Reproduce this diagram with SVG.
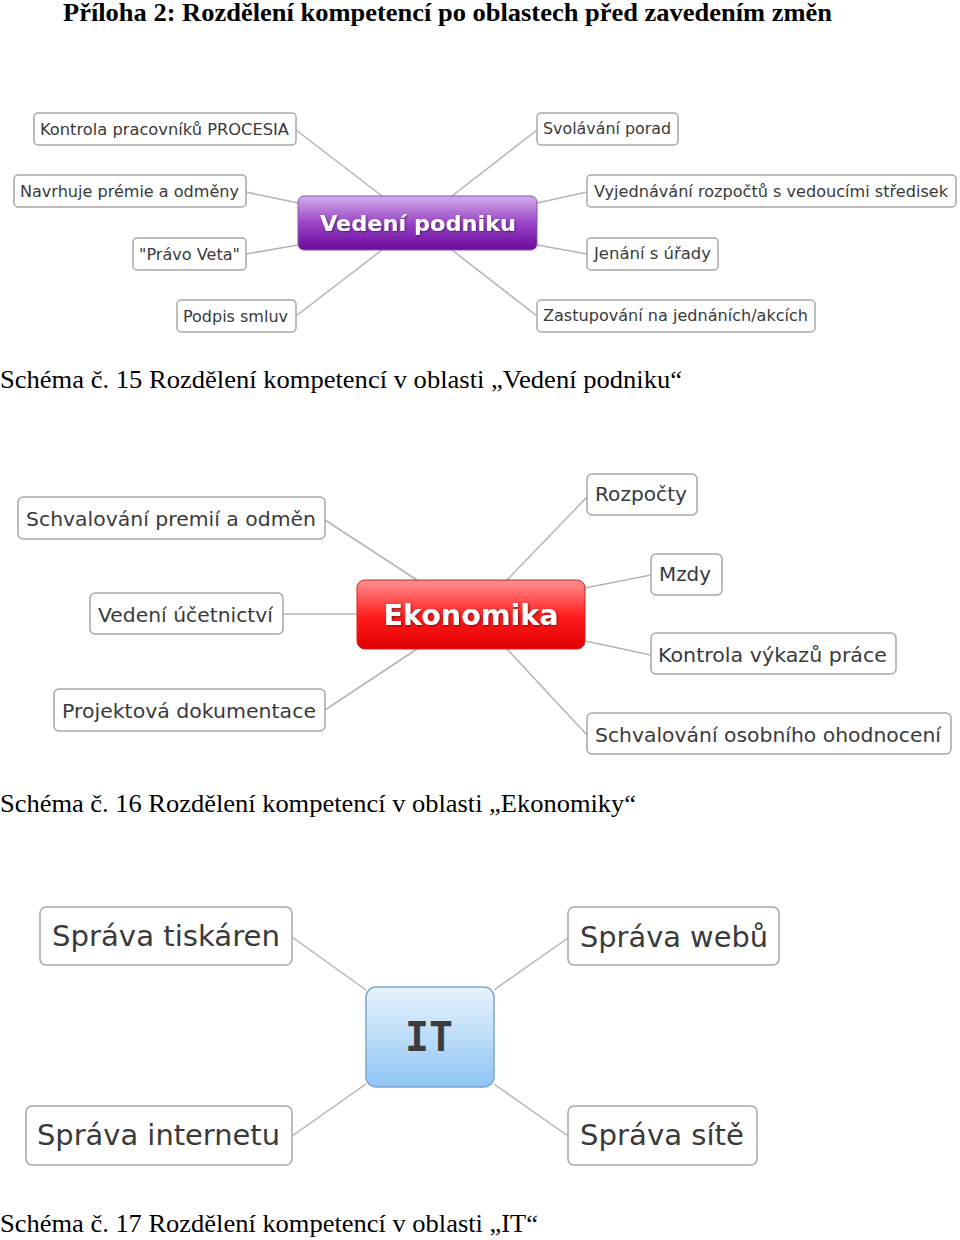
<svg xmlns="http://www.w3.org/2000/svg" width="960" height="1240" viewBox="0 0 960 1240">
<defs>
<linearGradient id="gPurple" x1="0" y1="0" x2="0" y2="1">
<stop offset="0" stop-color="#d3aee8"/><stop offset="0.5" stop-color="#9b45c8"/><stop offset="1" stop-color="#6a0a9c"/>
</linearGradient>
<linearGradient id="gRed" x1="0" y1="0" x2="0" y2="1">
<stop offset="0" stop-color="#ff9090"/><stop offset="0.55" stop-color="#ff1a1a"/><stop offset="1" stop-color="#e00000"/>
</linearGradient>
<linearGradient id="gBlue" x1="0" y1="0" x2="0" y2="1">
<stop offset="0" stop-color="#e8f3fd"/><stop offset="1" stop-color="#8ec5f5"/>
</linearGradient>
<filter id="ts" x="-10%" y="-30%" width="120%" height="160%">
<feDropShadow dx="1" dy="1" stdDeviation="0.8" flood-color="#000" flood-opacity="0.5"/>
</filter>
</defs>
<style>
.title{font-family:"Liberation Serif",serif;font-weight:bold;fill:#000}
.cap{font-family:"Liberation Serif",serif;fill:#000}
.leaf rect{fill:#fff;stroke:#a8a8a8;stroke-width:1.5}
.leaf text{font-family:"DejaVu Sans",Verdana,sans-serif;fill:#3a3a3a}
.conn line{stroke:#b4b4b4;stroke-width:1.5}
.center text{font-family:"DejaVu Sans",Verdana,sans-serif;font-weight:bold}
.center text.mono{font-family:"DejaVu Sans Mono",monospace}
</style>
<rect width="960" height="1240" fill="#fff"/>

<text class="title" x="63" y="21" font-size="26" textLength="769" lengthAdjust="spacingAndGlyphs">Příloha 2: Rozdělení kompetencí po oblastech před zavedením změn</text>

<!-- Diagram 1 -->
<g class="conn" id="conn1">
<line x1="296" y1="130" x2="382" y2="196"/>
<line x1="246" y1="192" x2="298" y2="203"/>
<line x1="246" y1="254" x2="298" y2="245"/>
<line x1="296" y1="316" x2="382" y2="250"/>
<line x1="537" y1="130" x2="452" y2="196"/>
<line x1="587" y1="192" x2="537" y2="203"/>
<line x1="587" y1="254" x2="537" y2="245"/>
<line x1="537" y1="316" x2="452" y2="250"/>
</g>
<g class="center" id="n-vedeni">
<rect x="298" y="196" width="239" height="54" rx="6" fill="url(#gPurple)" stroke="#8c55b0" stroke-width="1"/>
<text x="418" y="231" font-size="22" fill="#fff" text-anchor="middle" textLength="196" lengthAdjust="spacingAndGlyphs" filter="url(#ts)">Vedení podniku</text>
</g>
<g class="leaf" id="n-kontrola"><rect x="34" y="113" width="262" height="32" rx="4"/><text x="40" y="135" font-size="15" textLength="249" lengthAdjust="spacingAndGlyphs">Kontrola pracovníků PROCESIA</text></g>
<g class="leaf" id="n-navrhuje"><rect x="14" y="175" width="232" height="32" rx="4"/><text x="20" y="197" font-size="15" textLength="219" lengthAdjust="spacingAndGlyphs">Navrhuje prémie a odměny</text></g>
<g class="leaf" id="n-pravo"><rect x="133" y="238" width="113" height="32" rx="4"/><text x="139" y="260" font-size="15" textLength="101" lengthAdjust="spacingAndGlyphs">"Právo Veta"</text></g>
<g class="leaf" id="n-podpis"><rect x="177" y="300" width="119" height="32" rx="4"/><text x="183" y="322" font-size="15" textLength="105" lengthAdjust="spacingAndGlyphs">Podpis smluv</text></g>
<g class="leaf" id="n-svolavani"><rect x="537" y="113" width="141" height="32" rx="4"/><text x="543" y="134" font-size="15" textLength="128" lengthAdjust="spacingAndGlyphs">Svolávání porad</text></g>
<g class="leaf" id="n-vyjednavani"><rect x="587" y="175" width="369" height="32" rx="4"/><text x="594" y="197" font-size="15" textLength="354" lengthAdjust="spacingAndGlyphs">Vyjednávání rozpočtů s vedoucími středisek</text></g>
<g class="leaf" id="n-jenani"><rect x="587" y="238" width="131" height="32" rx="4"/><text x="594" y="259" font-size="15" textLength="117" lengthAdjust="spacingAndGlyphs">Jenání s úřady</text></g>
<g class="leaf" id="n-zastupovani"><rect x="537" y="300" width="278" height="32" rx="4"/><text x="543" y="321" font-size="15" textLength="265" lengthAdjust="spacingAndGlyphs">Zastupování na jednáních/akcích</text></g>

<text class="cap" x="0" y="388" font-size="25" textLength="682" lengthAdjust="spacingAndGlyphs">Schéma č. 15 Rozdělení kompetencí v oblasti „Vedení podniku“</text>

<!-- Diagram 2 -->
<g class="conn" id="conn2">
<line x1="325" y1="520" x2="417" y2="580"/>
<line x1="283" y1="614" x2="357" y2="614"/>
<line x1="325" y1="710" x2="417" y2="649"/>
<line x1="587" y1="497" x2="507" y2="580"/>
<line x1="651" y1="575" x2="585" y2="588"/>
<line x1="651" y1="655" x2="585" y2="641"/>
<line x1="587" y1="735" x2="507" y2="649"/>
</g>
<g class="center" id="n-ekonomika">
<rect x="357" y="580" width="228" height="69" rx="8" fill="url(#gRed)" stroke="#d42020" stroke-width="1"/>
<text x="471" y="625" font-size="28" fill="#fff" text-anchor="middle" textLength="175" lengthAdjust="spacingAndGlyphs" filter="url(#ts)">Ekonomika</text>
</g>
<g class="leaf" id="n-schval-premii"><rect x="18" y="497" width="307" height="42" rx="5"/><text x="26" y="526" font-size="20" textLength="290" lengthAdjust="spacingAndGlyphs">Schvalování premií a odměn</text></g>
<g class="leaf" id="n-ucetnictvi"><rect x="90" y="593" width="193" height="41" rx="5"/><text x="98" y="622" font-size="20" textLength="175" lengthAdjust="spacingAndGlyphs">Vedení účetnictví</text></g>
<g class="leaf" id="n-projektova"><rect x="54" y="689" width="271" height="42" rx="5"/><text x="62" y="718" font-size="20" textLength="254" lengthAdjust="spacingAndGlyphs">Projektová dokumentace</text></g>
<g class="leaf" id="n-rozpocty"><rect x="587" y="474" width="110" height="41" rx="5"/><text x="595" y="501" font-size="20" textLength="92" lengthAdjust="spacingAndGlyphs">Rozpočty</text></g>
<g class="leaf" id="n-mzdy"><rect x="651" y="554" width="71" height="41" rx="5"/><text x="659" y="581" font-size="20" textLength="52" lengthAdjust="spacingAndGlyphs">Mzdy</text></g>
<g class="leaf" id="n-kontrola-vykazu"><rect x="651" y="633" width="245" height="41" rx="5"/><text x="658" y="662" font-size="20" textLength="229" lengthAdjust="spacingAndGlyphs">Kontrola výkazů práce</text></g>
<g class="leaf" id="n-schval-osob"><rect x="587" y="713" width="364" height="41" rx="5"/><text x="595" y="742" font-size="20" textLength="346" lengthAdjust="spacingAndGlyphs">Schvalování osobního ohodnocení</text></g>

<text class="cap" x="0" y="812" font-size="25" textLength="636" lengthAdjust="spacingAndGlyphs">Schéma č. 16 Rozdělení kompetencí v oblasti „Ekonomiky“</text>

<!-- Diagram 3 -->
<g class="conn" id="conn3">
<line x1="292" y1="937" x2="366" y2="990"/>
<line x1="292" y1="1136" x2="366" y2="1084"/>
<line x1="568" y1="938" x2="494" y2="990"/>
<line x1="568" y1="1136" x2="494" y2="1084"/>
</g>
<g class="center" id="n-it">
<rect x="366" y="987" width="128" height="100" rx="10" fill="url(#gBlue)" stroke="#7da7cc" stroke-width="1.5"/>
<text class="mono" x="429" y="1051" font-size="40" fill="#3c3c3c" text-anchor="middle" textLength="48" lengthAdjust="spacingAndGlyphs">IT</text>
</g>
<g class="leaf" id="n-tiskaren"><rect x="40" y="907" width="252" height="58" rx="6"/><text x="52" y="946" font-size="29" textLength="228" lengthAdjust="spacingAndGlyphs">Správa tiskáren</text></g>
<g class="leaf" id="n-internetu"><rect x="26" y="1106" width="266" height="59" rx="6"/><text x="37" y="1145" font-size="29" textLength="243" lengthAdjust="spacingAndGlyphs">Správa internetu</text></g>
<g class="leaf" id="n-webu"><rect x="568" y="907" width="211" height="58" rx="6"/><text x="580" y="947" font-size="29" textLength="188" lengthAdjust="spacingAndGlyphs">Správa webů</text></g>
<g class="leaf" id="n-site"><rect x="568" y="1106" width="189" height="59" rx="6"/><text x="580" y="1145" font-size="29" textLength="164" lengthAdjust="spacingAndGlyphs">Správa sítě</text></g>

<text class="cap" x="0" y="1232" font-size="25" textLength="538" lengthAdjust="spacingAndGlyphs">Schéma č. 17 Rozdělení kompetencí v oblasti „IT“</text>
</svg>
